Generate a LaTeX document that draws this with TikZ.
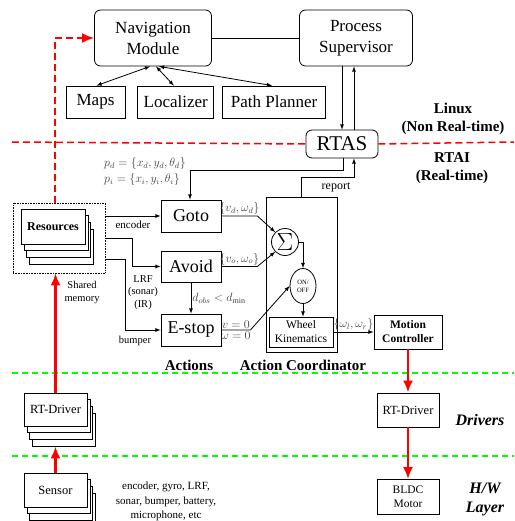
\documentclass[tikz,border=0pt]{standalone}
\usepackage{fontspec}
\setmainfont{Liberation Serif}
\usepackage{xcolor}
\usetikzlibrary{shapes,arrows,arrows.meta,positioning,shadows}
\newcommand{\fsz}[2]{\fontsize{#1}{#2}\selectfont}

\begin{document}
\begin{tikzpicture}[x=1pt, y=-1pt, >=latex, line width=0.8pt]
    \tikzstyle{rbox} = [draw, rounded corners=6pt, align=center, font=\fsz{17}{21}]
    \tikzstyle{block} = [draw, rectangle, align=center, inner sep=1pt, fill=white]
    \tikzstyle{stackbox} = [block,
        copy shadow={shadow xshift=8pt, shadow yshift=-20pt, fill=white, draw=black},
        copy shadow={shadow xshift=5pt, shadow yshift=-13pt, fill=white, draw=black},
        copy shadow={shadow xshift=3pt, shadow yshift=-6pt, fill=white, draw=black}]
    \tikzstyle{arrow} = [->]
    \tikzstyle{hwarrow} = [red, line width=2.5pt, -{Latex[length=12pt,width=10pt]}]
    \tikzstyle{reddiv} = [red, line width=1.5pt, dash pattern=on 7pt off 4pt]
    \tikzstyle{greendiv} = [green, line width=1.5pt, dash pattern=on 6pt off 4pt]
    \tikzstyle{layer} = [align=center, font=\bfseries\fsz{15}{18}]
    \tikzstyle{hwlayer} = [align=center, font=\bfseries\itshape\fsz{16}{19}]
    \tikzstyle{note} = [align=center, font=\fsz{10.5}{12.5}]
    \tikzstyle{sig} = [text=black!75, font=\fsz{11.5}{13.5}, inner sep=1pt]

    \useasboundingbox (0,0) rectangle (514,521);

    % Linux side
    \node[rbox, minimum width=117pt, minimum height=56pt] (nav) at (153,38) {Navigation\\Module};
    \node[rbox, minimum width=113pt, minimum height=56pt] (super) at (356,38) {Process\\Supervisor};
    \node[block, font=\fsz{17}{21}, minimum width=59pt, minimum height=32pt] (maps) at (95.5,102) {Maps};
    \node[block, font=\fsz{17}{21}, minimum width=76pt, minimum height=32pt, right=12pt of maps] (loc) {Localizer};
    \node[block, font=\fsz{17}{21}, minimum width=103pt, minimum height=32pt, right=8pt of loc] (planner) {Path Planner};
    \node[rbox, font=\fsz{21}{24}, minimum width=72pt, minimum height=28pt, inner sep=1pt] (rtas) at (342,144) {RTAS};

    \draw (nav) -- (super);
    \draw[<->] ([xshift=-3pt]nav.south) -- ([xshift=1pt]maps.north);
    \draw[<->] ([xshift=3pt]nav.south) -- ([xshift=-2pt]loc.north);
    \draw[<->] ([xshift=6pt]nav.south) -- ([xshift=-2pt]planner.north);
    \draw[arrow] ([xshift=-14pt]super.south) -- (rtas.north);
    \draw[arrow] ([xshift=12pt]rtas.north) -- ([xshift=-2pt]super.south);

    \coordinate (rl) at (12,142);
    \coordinate (rr) at (514,142);
    \draw[reddiv] (rl) -- (rtas.west);
    \draw[reddiv] (rtas.east) -- (rr);
    \node[layer] (linux) at (453,119) {Linux\\(Non Real-time)};
    \node[layer] (rtai) at (452,168) {RTAI\\(Real-time)};

    % actions
    \node[draw, minimum width=71pt, minimum height=155pt] (coord) at (301.5,274.5) {};
    \node[block, font=\fsz{18}{21}, minimum width=60pt, minimum height=32pt] (goto) at (191,216) {Goto};
    \node[block, font=\fsz{18}{21}, minimum width=60pt, minimum height=31pt] (avoid) at (191,266.5) {Avoid};
    \node[block, font=\fsz{18}{21}, minimum width=60pt, minimum height=32pt] (estop) at (191,330) {E-stop};
    \node[sig, align=left] (pose) at (145,171.5) {$p_d=\{x_d,y_d,\theta_d\}$\\[2pt]$p_i=\{x_i,y_i,\theta_i\}$};

    \draw[arrow] ([xshift=1pt]rtas.south) -- ++(0,12) -| ([xshift=-1pt]goto.north);
    \draw[arrow] (coord.north) -- ++(0,-19) -| ([xshift=12pt]rtas.south);
    \node[font=\fsz{12}{14}] (report) at (336,187) {report};

    \node[draw, densely dotted, line width=0.6pt, minimum width=92pt, minimum height=70pt] (shared) at (59,238) {};
    \node[stackbox, font=\bfseries\fsz{12}{14}, minimum width=64pt, minimum height=35pt] (res) at (53,226.5) {Resources};
    \node[note] (shm) at (82,292.5) {Shared\\memory};

    \draw[arrow] (shared.east |- goto.west) -- node[below, font=\fsz{11}{13}, yshift=-1pt] {encoder} (goto.west);
    \draw[arrow] (shared.east) -- ++(27,0) |- (avoid.west);
    \draw[arrow] ([yshift=-21pt]shared.east) -- ++(20,0) |- (estop.west);
    \node[note] (lrf) at (143,292.5) {LRF\\(sonar)\\(IR)};
    \node[note] (bump) at (135,341) {bumper};
    \draw[arrow] (avoid) -- node[sig, right] {$d_{obs}<d_{\min}$} (estop);

    % action coordinator
    \node[draw, circle, minimum size=27pt, inner sep=0pt, font=\fsz{23}{25}] (sum) at (285,242) {$\Sigma$};
    \node[draw, ellipse, minimum width=26pt, minimum height=35pt, inner sep=0pt, align=center, font=\fsz{6.5}{8}] (onoff) at (303,286) {ON/\\OFF};
    \node[block, minimum width=64pt, minimum height=30pt, font=\fsz{11.5}{14}] (wheel) at (301,332) {Wheel\\Kinematics};
    \node[block, minimum width=68pt, minimum height=34pt, font=\bfseries\fsz{11.5}{14}] (motion) at (408,332) {Motion\\Controller};

    \draw[arrow] (goto.east) -- node[sig, above] {$\{v_d,\omega_d\}$} ++(36,0) -- (sum.north west);
    \draw[arrow] (avoid.east) -- node[sig, above] {$\{v_o,\omega_o\}$} ++(36,0) -- (sum.south west);
    \draw[arrow] (estop.east) -- node[sig, above] {$v=0$} node[sig, below] {$\omega=0$} ++(29,0) -- (onoff.west);
    \draw[arrow] (sum.east) -| (onoff.north);
    \draw[arrow] (onoff.south) -- (onoff.south |- wheel.north);
    \draw[arrow] (wheel.east) -- node[sig, above] {$\{\omega_l,\omega_r\}$} (motion.west);

    \node[layer] (acts) at (189,365) {Actions};
    \node[layer] (acoord) at (303,365) {Action Coordinator};

    \coordinate (g1l) at (12,373);
    \coordinate (g1r) at (514,373);
    \coordinate (g2l) at (12,456);
    \coordinate (g2r) at (514,456);
    \draw[greendiv] (g1l) -- (g1r);
    \draw[greendiv] (g2l) -- (g2r);

    % drivers and hardware
    \node[block, minimum width=62pt, minimum height=34pt, font=\fsz{12.5}{15}] (rdrv) at (408,410) {RT-Driver};
    \node[block, minimum width=62pt, minimum height=35pt, font=\fsz{11.5}{14}] (motor) at (408,497) {BLDC\\Motor};
    \node[hwlayer] (drivers) at (480,420) {Drivers};
    \node[hwlayer] (hw) at (485,499) {H/W\\Layer};

    \node[stackbox, minimum width=63pt, minimum height=33pt, font=\fsz{12.5}{15}] (ldrv) at (55.5,409.5) {RT-Driver};
    \node[stackbox, minimum width=63pt, minimum height=34pt, font=\fsz{12.5}{15}] (sensor) at (55.5,490) {Sensor};
    \node[align=center, font=\fsz{11}{14.5}] (sdesc) at (166,501.5) {encoder, gyro, LRF,\\sonar, bumper, battery,\\microphone, etc};
    \coordinate (drvbase) at ([yshift=-20pt]ldrv.south);

    \draw[hwarrow] (motion.south) -- (rdrv.north);
    \draw[hwarrow] (rdrv.south) -- (motor.north);
    \draw[hwarrow] (sensor.north) -- (drvbase);
    \draw[hwarrow] (ldrv.north) -- ([xshift=-3.5pt]shared.south);
    \draw[hwarrow, line width=2pt, dash pattern=on 7pt off 4pt] ([xshift=-4pt]shared.north) |- (nav.west);
\end{tikzpicture}
\end{document}
